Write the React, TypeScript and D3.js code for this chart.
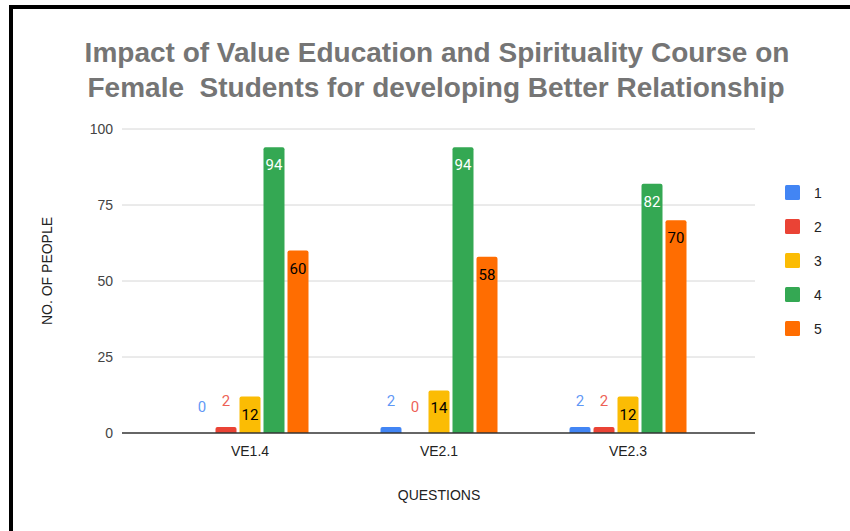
import React, { useRef, useEffect } from "react";
import * as d3 from "d3";

const categories = ["VE1.4", "VE2.1", "VE2.3"];
const seriesNames = ["1", "2", "3", "4", "5"];
const seriesValues = [
  [0, 2, 2],
  [2, 0, 2],
  [12, 14, 12],
  [94, 94, 82],
  [60, 58, 70],
];
const seriesColors = ["#4285f4", "#ea4335", "#fbbc04", "#34a853", "#ff6d01"];
const insideLabelColors = ["#000", "#000", "#000", "#fff", "#000"];
const yTicks = [0, 25, 50, 75, 100];

const W = 850;
const H = 531;

const App = () => {
  const svgRef = useRef<SVGSVGElement>(null);

  useEffect(() => {
    const svg = d3.select(svgRef.current);
    svg.selectAll("*").remove();

    const font = "'Liberation Sans', Arial, sans-serif";

    svg.append("rect").attr("width", W).attr("height", H).attr("fill", "#fff");

    // frame
    svg.append("rect").attr("x", 9).attr("y", 5).attr("width", W - 9).attr("height", 4).attr("fill", "#000");
    svg.append("rect").attr("x", 9).attr("y", 5).attr("width", 4).attr("height", H - 5).attr("fill", "#000");

    // title
    const title = svg
      .append("text")
      .attr("text-anchor", "middle")
      .attr("fill", "#757575")
      .attr("font-family", font)
      .attr("font-weight", "bold")
      .attr("font-size", 28)
      .style("white-space", "pre");
    title.append("tspan").attr("x", 437).attr("y", 62).text("Impact of Value Education and Spirituality Course on");
    title.append("tspan").attr("x", 436).attr("y", 97).text("Female  Students for developing Better Relationship");

    const plotLeft = 122;
    const plotRight = 755;

    const y = d3.scaleLinear().domain([0, 100]).range([433, 129]);

    const x0 = d3.scaleBand().domain(categories).range([155.5, 722.5]).padding(0);
    const x1 = d3
      .scaleBand()
      .domain(seriesNames)
      .range([0, x0.bandwidth()])
      .paddingInner(0.125)
      .paddingOuter(1.5);

    // grid
    svg
      .append("g")
      .selectAll("line")
      .data(yTicks.filter((t) => t !== 0))
      .join("line")
      .attr("x1", plotLeft)
      .attr("x2", plotRight)
      .attr("y1", (d) => y(d))
      .attr("y2", (d) => y(d))
      .attr("stroke", "#d6d6d6")
      .attr("stroke-width", 1);

    // y tick labels
    svg
      .append("g")
      .selectAll("text")
      .data(yTicks)
      .join("text")
      .attr("x", 113)
      .attr("y", (d) => y(d) + 5)
      .attr("text-anchor", "end")
      .attr("font-family", font)
      .attr("font-size", 14)
      .attr("fill", "#444")
      .text((d) => d);

    // bars
    const r = 2;
    const barPath = (bx: number, bw: number, top: number, bottom: number) => {
      const h = bottom - top;
      const rr = Math.min(r, h);
      return `M${bx},${bottom}V${top + rr}Q${bx},${top} ${bx + rr},${top}H${bx + bw - rr}Q${bx + bw},${top} ${bx + bw},${top + rr}V${bottom}Z`;
    };

    seriesNames.forEach((s, si) => {
      const g = svg.append("g");
      categories.forEach((c, ci) => {
        const v = seriesValues[si][ci];
        const bx = (x0(c) as number) + (x1(s) as number);
        const bw = x1.bandwidth();
        if (v > 0) {
          g.append("path")
            .attr("d", barPath(bx, bw, y(v), y(0)))
            .attr("fill", seriesColors[si]);
        }
        const inside = v >= 10;
        g.append("text")
          .attr("x", bx + bw / 2)
          .attr("y", inside ? y(v) + 23 : y(v) - 21)
          .attr("text-anchor", "middle")
          .attr("font-family", "Roboto, 'Liberation Sans', sans-serif")
          .attr("font-size", 15)
          .attr("fill", inside ? insideLabelColors[si] : seriesColors[si])
          .attr("fill-opacity", inside ? 1 : 0.85)
          .text(v);
      });
    });

    // baseline
    svg
      .append("line")
      .attr("x1", plotLeft)
      .attr("x2", plotRight)
      .attr("y1", y(0))
      .attr("y2", y(0))
      .attr("stroke", "#333")
      .attr("stroke-width", 1.5);

    // x labels
    svg
      .append("g")
      .selectAll("text")
      .data(categories)
      .join("text")
      .attr("x", (d) => (x0(d) as number) + x0.bandwidth() / 2)
      .attr("y", 456)
      .attr("text-anchor", "middle")
      .attr("font-family", font)
      .attr("font-size", 14)
      .attr("fill", "#222")
      .text((d) => d);

    // axis titles
    svg
      .append("text")
      .attr("x", 439)
      .attr("y", 500)
      .attr("text-anchor", "middle")
      .attr("font-family", font)
      .attr("font-size", 14)
      .attr("fill", "#222")
      .text("QUESTIONS");

    svg
      .append("text")
      .attr("transform", "translate(52,271) rotate(-90)")
      .attr("text-anchor", "middle")
      .attr("font-family", font)
      .attr("font-size", 14)
      .attr("fill", "#222")
      .text("NO. OF PEOPLE");

    // legend
    const legend = svg
      .append("g")
      .selectAll("g")
      .data(seriesNames)
      .join("g")
      .attr("transform", (d, i) => `translate(785,${185 + i * 34})`);
    legend
      .append("rect")
      .attr("width", 15)
      .attr("height", 15)
      .attr("rx", 1.5)
      .attr("fill", (d, i) => seriesColors[i]);
    legend
      .append("text")
      .attr("x", 29)
      .attr("y", 13)
      .attr("font-family", font)
      .attr("font-size", 14)
      .attr("fill", "#222")
      .text((d) => d);
  }, []);

  return (
    <div style={{ position: "fixed", left: 0, top: 0 }}>
      <svg ref={svgRef} width={W} height={H} style={{ display: "block" }}></svg>
    </div>
  );
};

export default App;
